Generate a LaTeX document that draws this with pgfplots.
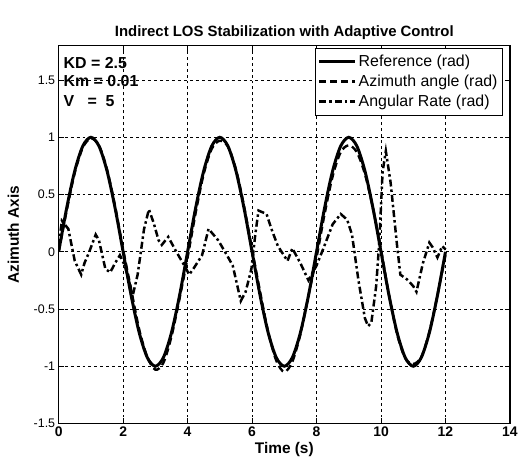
\documentclass[border=0pt]{standalone}
\usepackage{pgfplots}
\pgfplotsset{compat=1.18}
\usepackage{fontspec}
\setmainfont{Liberation Sans}
\begin{document}
\begin{tikzpicture}[x=1pt,y=1pt]
\begin{axis}[
  name=ax,
  at={(0,0)}, anchor=south west,
  scale only axis,
  width=454pt, height=380pt,
  xmin=0, xmax=14, ymin=-1.5, ymax=1.8,
  xtick={0,2,...,14},
  ytick={-1.5,-1,...,1.5},
  yticklabels={-1.5,-1,-0.5,0,0.5,1,1.5},
  xticklabels={\textbf{0},\textbf{2},\textbf{4},\textbf{6},\textbf{8},\textbf{10},\textbf{12},\textbf{14}},
  /pgf/number format/assume math mode=true,
  tick label style={font=\fontsize{12.5}{14}\selectfont},
  xticklabel style={font=\fontsize{14}{15}\selectfont},
  tick align=inside,
  major tick length=5pt,
  grid=major,
  major grid style={black, line width=0.7pt, dash pattern=on 3pt off 3pt},
  axis line style={line width=1.2pt},
  every tick/.style={black, line width=0.9pt},
  title={\textbf{Indirect LOS Stabilization with Adaptive Control}},
  title style={font=\fontsize{15}{17}\selectfont, yshift=-3pt},
  xlabel={\textbf{Time (s)}},
  ylabel={\textbf{Azimuth Axis}},
  label style={font=\fontsize{15.5}{17}\selectfont},
  xlabel style={yshift=1pt},
  ylabel style={yshift=8pt},
  legend style={at={(0.9846,0.9947)}, anchor=north east, draw=black, line width=1pt,
    font=\fontsize{16}{18}\selectfont, row sep=3pt, inner xsep=3pt, inner ysep=5pt,
    legend cell align=left},
  legend image code/.code={\draw[#1] (0pt,0pt) -- (36pt,0pt);},
]
\addplot[black, line width=3pt, smooth] coordinates {
(0,0) (0.25,0.383) (0.5,0.707) (0.75,0.924) (1,1) (1.25,0.924) (1.5,0.707) (1.75,0.383)
(2,0) (2.25,-0.383) (2.5,-0.707) (2.75,-0.924) (3,-1) (3.25,-0.924) (3.5,-0.707) (3.75,-0.383)
(4,0) (4.25,0.383) (4.5,0.707) (4.75,0.924) (5,1) (5.25,0.924) (5.5,0.707) (5.75,0.383)
(6,0) (6.25,-0.383) (6.5,-0.707) (6.75,-0.924) (7,-1) (7.25,-0.924) (7.5,-0.707) (7.75,-0.383)
(8,0) (8.25,0.383) (8.5,0.707) (8.75,0.924) (9,1) (9.25,0.924) (9.5,0.707) (9.75,0.383)
(10,0) (10.25,-0.383) (10.5,-0.707) (10.75,-0.924) (11,-1) (11.25,-0.924) (11.5,-0.707) (11.75,-0.383)
(12,0)
};
\addlegendentry{Reference (rad)}
\addplot[black, line width=2.4pt, dash pattern=on 7pt off 4pt, smooth] coordinates {
(0,0) (0.25,0.36) (0.5,0.69) (0.75,0.91) (1,0.99) (1.25,0.93) (1.5,0.72) (1.75,0.40)
(2,0.02) (2.25,-0.33) (2.5,-0.68) (2.75,-0.92) (3,-1.03) (3.25,-0.97) (3.5,-0.74) (3.75,-0.41)
(4,-0.05) (4.25,0.34) (4.5,0.68) (4.75,0.90) (5,0.97) (5.25,0.92) (5.5,0.72) (5.75,0.40)
(6,0.02) (6.25,-0.35) (6.5,-0.70) (6.75,-0.95) (7,-1.05) (7.25,-0.96) (7.5,-0.72) (7.75,-0.38)
(8,-0.05) (8.25,0.33) (8.5,0.66) (8.75,0.87) (9,0.93) (9.25,0.87) (9.5,0.68) (9.75,0.38)
(10,0.02) (10.25,-0.38) (10.5,-0.72) (10.75,-0.93) (11,-0.98) (11.25,-0.92) (11.5,-0.70) (11.75,-0.38)
(12,-0.03)
};
\addlegendentry{Azimuth angle (rad)}
\addplot[black, line width=2.5pt, dash pattern=on 7pt off 3pt on 2.5pt off 3pt] coordinates {
(0,0.05) (0.1,0.27) (0.3,0.2) (0.5,-0.08) (0.7,-0.2) (0.8,-0.1) (0.95,0.0) (1.15,0.15)
(1.25,0.1) (1.45,-0.15) (1.6,-0.18) (1.75,-0.1) (1.9,-0.03) (2.05,-0.12) (2.3,-0.38)
(2.45,-0.2) (2.65,0.2) (2.8,0.37) (2.95,0.25) (3.1,0.1) (3.2,0.06) (3.4,0.13) (3.65,0.0)
(3.9,-0.12) (4.05,-0.2) (4.2,-0.14) (4.45,-0.03) (4.65,0.2) (4.8,0.15) (4.95,0.1)
(5.2,-0.02) (5.4,-0.12) (5.65,-0.43) (5.8,-0.35) (5.98,-0.15) (6.1,0.15) (6.2,0.36)
(6.45,0.33) (6.6,0.2) (6.8,0.05) (7.1,-0.08) (7.25,0.03) (7.5,-0.1) (7.75,-0.25)
(8.0,-0.12) (8.2,0.02) (8.5,0.24) (8.75,0.33) (8.95,0.28) (9.1,0.15) (9.3,-0.25)
(9.5,-0.58) (9.6,-0.65) (9.7,-0.62) (9.85,-0.3) (9.95,0.1) (10.05,0.7) (10.15,0.88)
(10.3,0.6) (10.5,0.05) (10.6,-0.2) (10.8,-0.24) (11.0,-0.3) (11.1,-0.35) (11.3,-0.1)
(11.5,0.08) (11.6,0.04) (11.75,-0.05) (11.9,0.05) (12.0,0.02)
};
\addlegendentry{Angular Rate (rad)}
\node[anchor=west, font=\fontsize{16}{18}\selectfont\bfseries, inner sep=0pt] at (axis cs:0.15,1.65) {KD = 2.5};
\node[anchor=west, font=\fontsize{16}{18}\selectfont\bfseries, inner sep=0pt] at (axis cs:0.15,1.49) {Km = 0.01};
\node[anchor=west, font=\fontsize{16}{18}\selectfont\bfseries, inner sep=0pt] at (axis cs:0.15,1.32) {V\ \ \ = \ 5};
\end{axis}
\useasboundingbox (ax.south west) ++(-59pt,-36pt) rectangle ++(521pt,462pt);
\end{tikzpicture}
\end{document}
